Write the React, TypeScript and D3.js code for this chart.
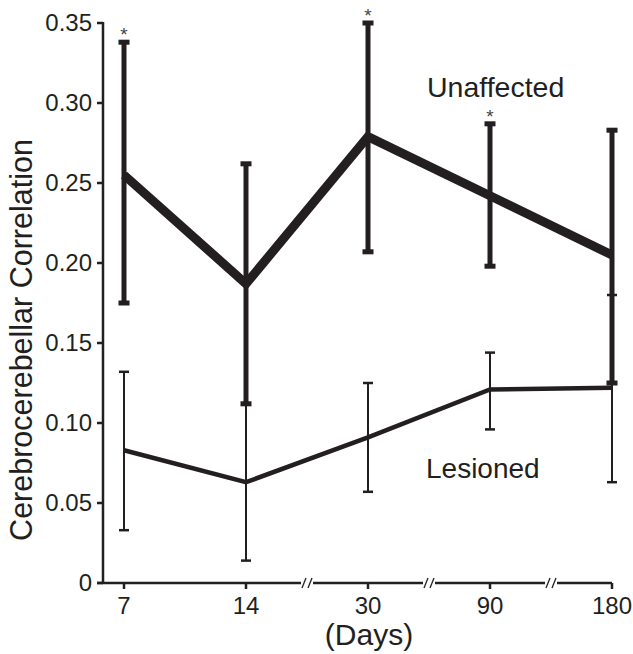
import React from 'react';
import * as d3 from 'd3';

// values
const days = ['7', '14', '30', '90', '180'];
const unaffectedMean = [0.255, 0.187, 0.279, 0.242, 0.205];
const unaffectedLow = [0.175, 0.112, 0.207, 0.198, 0.125];
const unaffectedHigh = [0.338, 0.262, 0.35, 0.287, 0.283];
const lesionedMean = [0.083, 0.063, 0.091, 0.121, 0.122];
const lesionedLow = [0.033, 0.014, 0.057, 0.096, 0.063];
const lesionedHigh = [0.132, 0.112, 0.125, 0.144, 0.18];
const significant = [true, false, true, true, false];
const yTicks = [0, 0.05, 0.1, 0.15, 0.2, 0.25, 0.3, 0.35];

const INK = '#231f20';
const FONT = 'Liberation Sans, Arial, Helvetica, sans-serif';

export default function App() {
  const width = 633;
  const height = 654;
  const axisX = 103;

  const x = d3.scalePoint<string>().domain(days).range([124, 612]);
  const y = d3.scaleLinear().domain([0, 0.35]).range([583, 23]);

  const step = x.step();
  // axis breaks sit between 14-30, 30-90 and 90-180
  const breaks = [2, 3, 4].map((i) => x(days[i])! - step / 2);

  const line = d3
    .line<number>()
    .x((_, i) => x(days[i])!)
    .y((d) => y(d));

  // x axis drawn in pieces with gaps at the breaks
  const gap = 6;
  const segs: [number, number][] = [];
  let start = axisX - 6;
  breaks.forEach((b) => {
    segs.push([start, b - gap]);
    start = b + gap;
  });
  segs.push([start, x('180')!]);

  const errorBars = (
    low: number[],
    high: number[],
    lw: number,
    capW: number,
    capH: number,
    key: string
  ) =>
    days.map((d, i) => {
      const cx = x(d)!;
      return (
        <g key={key + d}>
          <line x1={cx} x2={cx} y1={y(low[i])} y2={y(high[i])} stroke={INK} strokeWidth={lw} />
          <rect x={cx - capW / 2} y={y(high[i]) - capH / 2} width={capW} height={capH} fill={INK} />
          <rect x={cx - capW / 2} y={y(low[i]) - capH / 2} width={capW} height={capH} fill={INK} />
        </g>
      );
    });

  return (
    <svg
      width={width}
      height={height}
      style={{ position: 'absolute', left: 0, top: 0, background: '#fff' }}
      fontFamily={FONT}
    >
      {/* y axis */}
      <line x1={axisX} x2={axisX} y1={y(0.35) - 1} y2={y(0) + 1} stroke={INK} strokeWidth={2.5} />
      {yTicks.map((t) => (
        <g key={t}>
          <line x1={axisX - 6} x2={axisX} y1={y(t)} y2={y(t)} stroke={INK} strokeWidth={2.5} />
          <text x={axisX - 11} y={y(t)} dy="0.35em" textAnchor="end" fontSize={24} fill={INK}>
            {t === 0 ? '0' : t.toFixed(2)}
          </text>
        </g>
      ))}

      {/* x axis with breaks */}
      {segs.map(([a, b], i) => (
        <line key={i} x1={a} x2={b} y1={y(0)} y2={y(0)} stroke={INK} strokeWidth={2.5} />
      ))}
      {breaks.map((b) => (
        <g key={b}>
          <line x1={b - 5} x2={b - 1} y1={y(0) + 5} y2={y(0) - 5} stroke={INK} strokeWidth={1.3} />
          <line x1={b + 1} x2={b + 5} y1={y(0) + 5} y2={y(0) - 5} stroke={INK} strokeWidth={1.3} />
        </g>
      ))}
      {days.map((d) => (
        <g key={d}>
          <line x1={x(d)} x2={x(d)} y1={y(0)} y2={y(0) + 6} stroke={INK} strokeWidth={2.5} />
          <text x={x(d)} y={614} textAnchor="middle" fontSize={24} fill={INK}>
            {d}
          </text>
        </g>
      ))}

      {/* axis titles */}
      <text x={369} y={645} textAnchor="middle" fontSize={30} fill={INK}>
        (Days)
      </text>
      <text
        transform={`translate(32,340) rotate(-90)`}
        textAnchor="middle"
        fontSize={30.5}
        fill={INK}
      >
        Cerebrocerebellar Correlation
      </text>

      {/* lesioned */}
      {errorBars(lesionedLow, lesionedHigh, 2, 10, 2.5, 'l')}
      <path d={line(lesionedMean)!} fill="none" stroke={INK} strokeWidth={4.5} strokeLinejoin="miter" />

      {/* unaffected */}
      {errorBars(unaffectedLow, unaffectedHigh, 5, 11, 5, 'u')}
      <path d={line(unaffectedMean)!} fill="none" stroke={INK} strokeWidth={9} strokeLinejoin="miter" />

      {/* significance markers */}
      {days.map((d, i) =>
        significant[i] ? (
          <text key={'s' + d} x={x(d)} y={y(unaffectedHigh[i]) - 1} textAnchor="middle" fontSize={19} fill="#444">
            *
          </text>
        ) : null
      )}

      {/* series labels */}
      <text x={427} y={97} fontSize={28.5} fill={INK}>
        Unaffected
      </text>
      <text x={426} y={478} fontSize={28} fill={INK}>
        Lesioned
      </text>
    </svg>
  );
}
